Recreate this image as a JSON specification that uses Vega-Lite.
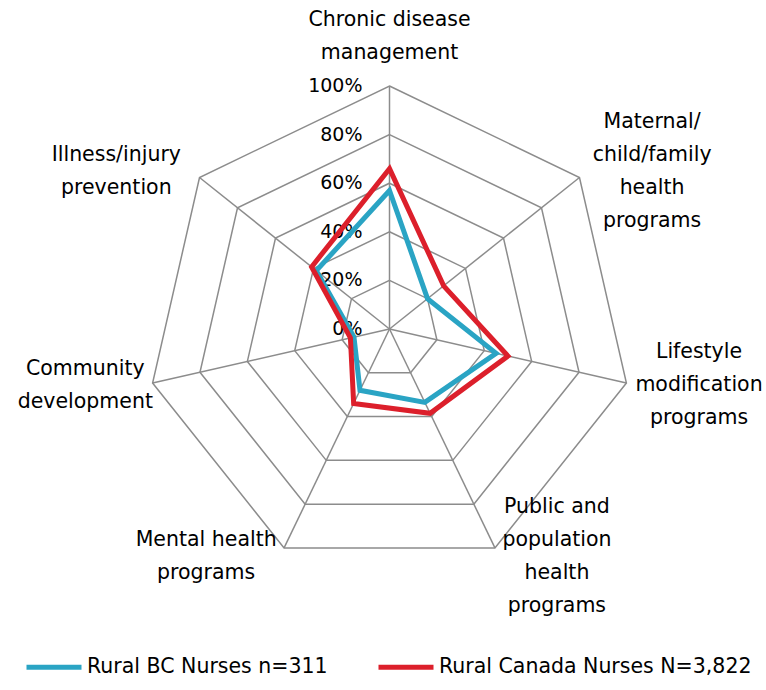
{
  "$schema": "https://vega.github.io/schema/vega-lite/v6.json",
  "width": 766,
  "height": 690,
  "autosize": {"type": "none"},
  "padding": 0,
  "config": {"view": {"stroke": null}, "font": "DejaVu Sans"},
  "datasets": {
    "series": [
      {"k": 0, "category": "Chronic disease management", "series": "Rural BC Nurses n=311", "value": 57},
      {"k": 1, "category": "Maternal/child/family health programs", "series": "Rural BC Nurses n=311", "value": 20},
      {"k": 2, "category": "Lifestyle modification programs", "series": "Rural BC Nurses n=311", "value": 45},
      {"k": 3, "category": "Public and population health programs", "series": "Rural BC Nurses n=311", "value": 33.5},
      {"k": 4, "category": "Mental health programs", "series": "Rural BC Nurses n=311", "value": 28},
      {"k": 5, "category": "Community development", "series": "Rural BC Nurses n=311", "value": 15},
      {"k": 6, "category": "Illness/injury prevention", "series": "Rural BC Nurses n=311", "value": 38.5},
      {"k": 0, "category": "Chronic disease management", "series": "Rural Canada Nurses N=3,822", "value": 66},
      {"k": 1, "category": "Maternal/child/family health programs", "series": "Rural Canada Nurses N=3,822", "value": 28.5},
      {"k": 2, "category": "Lifestyle modification programs", "series": "Rural Canada Nurses N=3,822", "value": 50},
      {"k": 3, "category": "Public and population health programs", "series": "Rural Canada Nurses N=3,822", "value": 38.5},
      {"k": 4, "category": "Mental health programs", "series": "Rural Canada Nurses N=3,822", "value": 34},
      {"k": 5, "category": "Community development", "series": "Rural Canada Nurses N=3,822", "value": 16.5},
      {"k": 6, "category": "Illness/injury prevention", "series": "Rural Canada Nurses N=3,822", "value": 41}
    ],
    "axes": [
      {"k": 0, "label": "Chronic disease\nmanagement"},
      {"k": 1, "label": "Maternal/\nchild/family\nhealth\nprograms"},
      {"k": 2, "label": "Lifestyle\nmodification\nprograms"},
      {"k": 3, "label": "Public and\npopulation\nhealth\nprograms"},
      {"k": 4, "label": "Mental health\nprograms"},
      {"k": 5, "label": "Community\ndevelopment"},
      {"k": 6, "label": "Illness/injury\nprevention"}
    ],
    "rings": [
      {"level": 20, "k": 0}, {"level": 20, "k": 1}, {"level": 20, "k": 2}, {"level": 20, "k": 3}, {"level": 20, "k": 4}, {"level": 20, "k": 5}, {"level": 20, "k": 6},
      {"level": 40, "k": 0}, {"level": 40, "k": 1}, {"level": 40, "k": 2}, {"level": 40, "k": 3}, {"level": 40, "k": 4}, {"level": 40, "k": 5}, {"level": 40, "k": 6},
      {"level": 60, "k": 0}, {"level": 60, "k": 1}, {"level": 60, "k": 2}, {"level": 60, "k": 3}, {"level": 60, "k": 4}, {"level": 60, "k": 5}, {"level": 60, "k": 6},
      {"level": 80, "k": 0}, {"level": 80, "k": 1}, {"level": 80, "k": 2}, {"level": 80, "k": 3}, {"level": 80, "k": 4}, {"level": 80, "k": 5}, {"level": 80, "k": 6},
      {"level": 100, "k": 0}, {"level": 100, "k": 1}, {"level": 100, "k": 2}, {"level": 100, "k": 3}, {"level": 100, "k": 4}, {"level": 100, "k": 5}, {"level": 100, "k": 6}
    ],
    "ticks": [
      {"tick": 0, "text": "0%"}, {"tick": 20, "text": "20%"}, {"tick": 40, "text": "40%"},
      {"tick": 60, "text": "60%"}, {"tick": 80, "text": "80%"}, {"tick": 100, "text": "100%"}
    ]
  },
  "encoding": {
    "x": {"field": "px", "type": "quantitative", "axis": null, "scale": {"domain": [-389.5, 376.5], "nice": false, "zero": false}},
    "y": {"field": "py", "type": "quantitative", "axis": null, "scale": {"domain": [-361, 329], "nice": false, "zero": false}}
  },
  "layer": [
    {
      "data": {"name": "rings"},
      "transform": [
        {"calculate": "datum.k * 2 * PI / 7", "as": "theta"},
        {"calculate": "datum.level * 2.43 * sin(datum.theta)", "as": "px"},
        {"calculate": "datum.level * 2.43 * cos(datum.theta)", "as": "py"}
      ],
      "mark": {"type": "line", "interpolate": "linear-closed", "color": "#8c8c8c", "strokeWidth": 1.5},
      "encoding": {
        "detail": {"field": "level", "type": "nominal"},
        "order": {"field": "k", "type": "quantitative"}
      }
    },
    {
      "data": {"name": "axes"},
      "transform": [
        {"calculate": "datum.k * 2 * PI / 7", "as": "theta"},
        {"calculate": "243 * sin(datum.theta)", "as": "px"},
        {"calculate": "243 * cos(datum.theta)", "as": "py"},
        {"calculate": "0", "as": "ox"},
        {"calculate": "0", "as": "oy"}
      ],
      "mark": {"type": "rule", "color": "#8c8c8c", "strokeWidth": 1.5},
      "encoding": {
        "x2": {"field": "ox"},
        "y2": {"field": "oy"}
      }
    },
    {
      "data": {"name": "ticks"},
      "transform": [
        {"calculate": "datum.tick * 2.43", "as": "py"},
        {"calculate": "0", "as": "px"}
      ],
      "mark": {"type": "text", "align": "right", "baseline": "middle", "dx": -27, "fontSize": 19, "font": "DejaVu Sans", "color": "#000000"},
      "encoding": {
        "text": {"field": "text"}
      }
    },
    {
      "data": {"name": "series"},
      "transform": [
        {"calculate": "datum.k * 2 * PI / 7", "as": "theta"},
        {"calculate": "datum.value * 2.43 * sin(datum.theta)", "as": "px"},
        {"calculate": "datum.value * 2.43 * cos(datum.theta)", "as": "py"}
      ],
      "mark": {"type": "line", "interpolate": "linear-closed", "strokeWidth": 5, "strokeJoin": "miter"},
      "encoding": {
        "order": {"field": "k", "type": "quantitative"},
        "color": {
          "field": "series",
          "type": "nominal",
          "scale": {"domain": ["Rural BC Nurses n=311", "Rural Canada Nurses N=3,822"], "range": ["#2aa4c4", "#dc1f2b"]},
          "legend": {
            "orient": "none",
            "legendX": 24,
            "legendY": 637,
            "direction": "horizontal",
            "title": null,
            "symbolType": "stroke",
            "symbolStrokeWidth": 5,
            "symbolSize": 3025,
            "labelFontSize": 20.5,
            "labelFont": "DejaVu Sans",
            "labelColor": "#000000",
            "labelLimit": 500,
            "labelOffset": 3,
            "columnPadding": 40
          }
        }
      }
    },
    {
      "data": {"name": "axes"},
      "transform": [
        {"calculate": "datum.k * 2 * PI / 7", "as": "theta"},
        {"calculate": "split(datum.label, '\\n')", "as": "lines"},
        {"calculate": "length(datum.lines)", "as": "nlines"},
        {"calculate": "max(length(datum.lines[0]), length(datum.lines[1] || ''), length(datum.lines[2] || ''), length(datum.lines[3] || ''))", "as": "maxc"},
        {"calculate": "abs(sin(datum.theta)) < 0.2 ? 0 : (sin(datum.theta) > 0 ? 1 : -1)", "as": "sgn"},
        {"calculate": "243 * sin(datum.theta) + datum.sgn * (9 + datum.maxc * 10.6 / 2)", "as": "px"},
        {"calculate": "(datum.sgn == 0 ? 243 * cos(datum.theta) + 17 + datum.nlines * 16.5 : 243 * cos(datum.theta) + 9 * cos(datum.theta)) + (datum.nlines - 1) * 16.5", "as": "py"}
      ],
      "mark": {"type": "text", "align": "center", "baseline": "middle", "lineBreak": "\n", "lineHeight": 33, "fontSize": 20.5, "font": "DejaVu Sans", "color": "#000000"},
      "encoding": {
        "text": {"field": "label"}
      }
    }
  ]
}
